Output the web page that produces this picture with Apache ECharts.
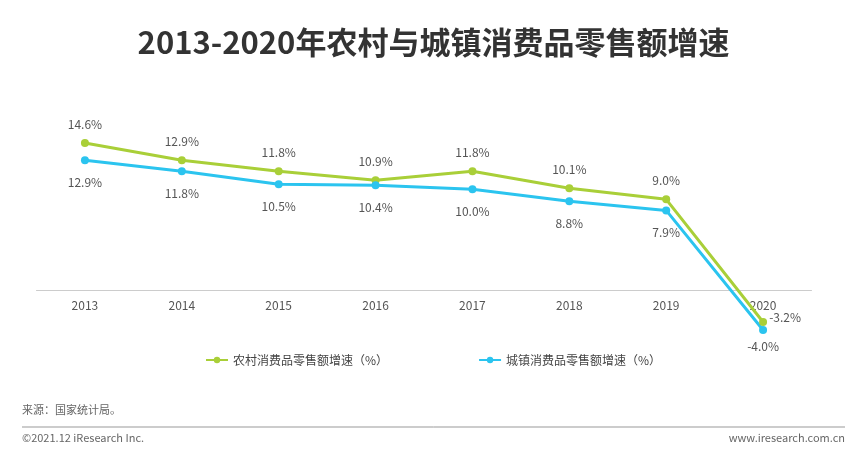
<!DOCTYPE html><html><head><meta charset="utf-8"><script src="https://cdn.jsdelivr.net/npm/echarts@6/dist/echarts.min.js"></script></head><body style="margin:0"><div id="c" style="width:867px;height:462px"></div><script>
const categories=['2013','2014','2015','2016','2017','2018','2019','2020'];
const rural=[14.6,12.9,11.8,10.9,11.8,10.1,9.0,-3.2];
const urban=[12.9,11.8,10.5,10.4,10.0,8.8,7.9,-4.0];
const F='"Noto Sans CJK SC","Noto Sans",sans-serif';
const c=echarts.init(document.getElementById('c'));
c.setOption({
title:{text:'2013-2020年农村与城镇消费品零售额增速',left:'center',top:22,textStyle:{fontFamily:F,fontSize:31,fontWeight:'bold',color:'#333'}},
grid:{left:36.5,right:55.5,top:129,height:201},
xAxis:{type:'category',data:categories,offset:-40.2,axisTick:{show:false},axisLine:{onZero:false,lineStyle:{color:'#ccc'}},axisLabel:{color:'#555',fontSize:12,margin:10,fontFamily:F}},
yAxis:{type:'value',min:-4,max:16,show:false,splitLine:{show:false}},
legend:{top:349,itemGap:90,left:200,textStyle:{fontFamily:F,fontSize:12,color:'#444'},itemWidth:22,itemHeight:8},
series:[
{name:'农村消费品零售额增速（%）',type:'line',data:rural,color:'#a9cf38',symbol:'circle',symbolSize:8,lineStyle:{width:3},
label:{show:true,position:'top',distance:9,color:'#555',fontSize:12,fontFamily:F,formatter:p=>p.value.toFixed(1)+'%'},
labelLayout:p=>p.dataIndex===7?{dx:22,dy:14}:{}},
{name:'城镇消费品零售额增速（%）',type:'line',data:urban,color:'#2bc4ef',symbol:'circle',symbolSize:8,lineStyle:{width:3},
label:{show:true,position:'bottom',distance:12,color:'#555',fontSize:12,fontFamily:F,formatter:p=>p.value.toFixed(1)+'%'},
labelLayout:p=>p.dataIndex===7?{dy:-6}:{}}
],
graphic:[
{type:'text',left:22,top:404,style:{text:'来源：国家统计局。',fill:'#666',font:'11px '+F}},
{type:'line',shape:{x1:22,y1:427,x2:845,y2:427},style:{stroke:'#999',lineWidth:1}},
{type:'text',left:22,top:432,style:{text:'©2021.12 iResearch Inc.',fill:'#666',font:'11px '+F}},
{type:'text',right:22,top:432,style:{text:'www.iresearch.com.cn',fill:'#666',font:'11px '+F}}
]});
</script></body></html>
